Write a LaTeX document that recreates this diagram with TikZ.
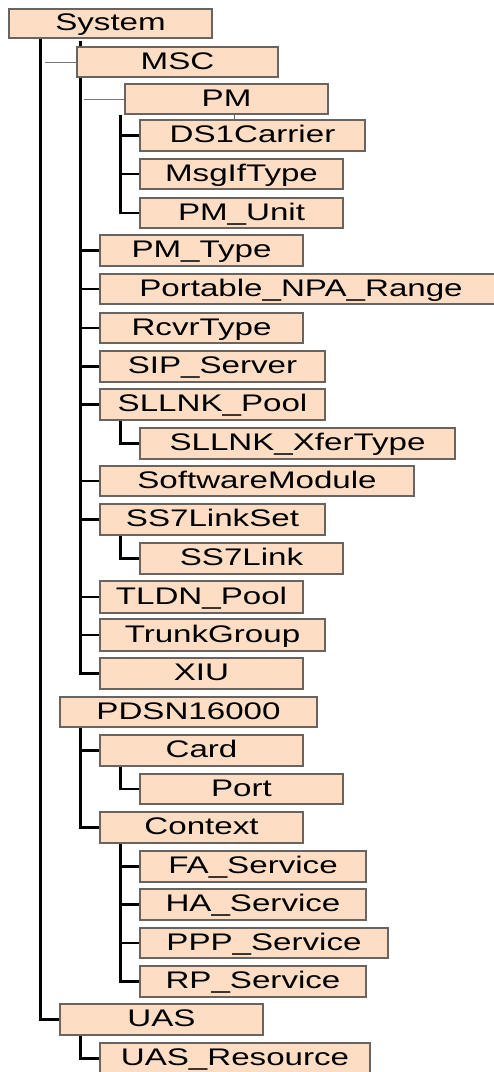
\documentclass[tikz,border=0pt]{standalone}
\usepackage{fontspec}
\setmainfont{Liberation Sans}
\newfontfamily\boxfont[FakeStretch=1.38]{Liberation Sans}
\usetikzlibrary{backgrounds}
\definecolor{peach}{HTML}{FDDEC4}
\definecolor{boxline}{RGB}{105,100,96}
\definecolor{thinline}{RGB}{120,120,120}
\tikzset{
  bx/.style={draw=boxline, line width=1.3pt, fill=peach, inner sep=0pt,
    text height=17pt, text depth=2.6pt, align=center,
    font=\boxfont\fontsize{24}{28}\selectfont},
  conn/.style={draw=black, line width=2.6pt},
  thinconn/.style={draw=thinline, line width=1pt},
  tick/.style={draw=boxline, line width=1pt}
}
\newcommand\mkbox[6]{%
  \pgfmathsetmacro\bw{#3-#2}\pgfmathsetmacro\bh{#5-#4}%
  \pgfmathsetmacro\bcx{(#2+#3)/2}\pgfmathsetmacro\bcy{(#4+#5)/2}%
  \node[bx, minimum width=\bw pt, minimum height=\bh pt] (#1) at (\bcx,\bcy) {#6};}
\begin{document}
\begin{tikzpicture}[x=1pt,y=-1pt]
\useasboundingbox (0,0) rectangle (494,1072);
\clip (0,0) rectangle (494,1072);
\coordinate (l1) at (40.5,0);
\coordinate (l2) at (80.5,0);
\coordinate (l3) at (120.5,0);
\coordinate (tk) at (234,0);
% boxes
\mkbox{sys}{9}{212}{9}{38}{System}
\mkbox{msc}{77}{278}{47}{77}{MSC}
\mkbox{pm}{125}{328}{84}{114}{PM}
\mkbox{ds1}{140}{365}{120}{151}{DS1Carrier}
\mkbox{msg}{140}{343}{159}{189}{MsgIfType}
\mkbox{pmu}{140}{343}{198}{228}{PM\_Unit}
\mkbox{pmt}{100}{303}{235}{266}{PM\_Type}
\mkbox{npa}{100}{502}{274}{304}{Portable\_NPA\_Range}
\mkbox{rcv}{100}{303}{313}{343}{RcvrType}
\mkbox{sip}{100}{325}{351}{382}{SIP\_Server}
\mkbox{slp}{100}{325}{389}{420}{SLLNK\_Pool}
\mkbox{slx}{140}{455}{428}{459}{SLLNK\_XferType}
\mkbox{swm}{100}{414}{466}{496}{SoftwareModule}
\mkbox{sss}{100}{325}{504}{535}{SS7LinkSet}
\mkbox{ssl}{140}{343}{543}{574}{SS7Link}
\mkbox{tld}{100}{303}{581}{613}{TLDN\_Pool}
\mkbox{trk}{100}{325}{619}{651}{TrunkGroup}
\mkbox{xiu}{100}{303}{658}{689}{XIU}
\mkbox{pdsn}{60}{317}{697}{727}{PDSN16000}
\mkbox{card}{100}{303}{735}{766}{Card}
\mkbox{port}{140}{343}{774}{804}{Port}
\mkbox{ctx}{100}{303}{812}{843}{Context}
\mkbox{fa}{140}{366}{851}{882}{FA\_Service}
\mkbox{ha}{140}{366}{889}{920}{HA\_Service}
\mkbox{ppp}{140}{388}{928}{958}{PPP\_Service}
\mkbox{rp}{140}{366}{966}{997}{RP\_Service}
\mkbox{uas}{60}{263}{1004}{1035}{UAS}
\mkbox{uasr}{100}{370}{1043}{1074}{UAS\_Resource}
\begin{scope}[on background layer]
\fill[white] (0,0) rectangle (494,1072);
% System trunk
\draw[conn] (sys.south -| l1) |- (uas.west);
\draw[thinconn] ([xshift=-31pt]msc.west) -- (msc.west);
% MSC trunk
\draw[conn] ([yshift=5pt]msc.north -| l2) |- (xiu.west);
\foreach \c in {pmt,npa,rcv,sip,slp,swm,sss,tld,trk}
  \draw[conn] (\c.west -| l2) -- (\c.west);
\draw[thinconn] ([xshift=-40pt]pm.west) -- (pm.west);
% PM trunk
\draw[conn] (pm.south -| l3) |- (pmu.west);
\foreach \c in {ds1,msg}
  \draw[conn] (\c.west -| l3) -- (\c.west);
\draw[tick] (pm.south -| tk) -- (ds1.north -| tk);
\draw[conn] (slp.south -| l3) |- (slx.west);
\draw[conn] (sss.south -| l3) |- (ssl.west);
% PDSN trunk
\draw[conn] (pdsn.south -| l2) |- (ctx.west);
\draw[conn] (card.west -| l2) -- (card.west);
\draw[conn] (card.south -| l3) |- (port.west);
\draw[conn] (ctx.south -| l3) |- (rp.west);
\foreach \c in {fa,ha,ppp}
  \draw[conn] (\c.west -| l3) -- (\c.west);
% UAS
\draw[conn] (uas.south -| l2) |- (uasr.west);
\end{scope}
\end{tikzpicture}
\end{document}
